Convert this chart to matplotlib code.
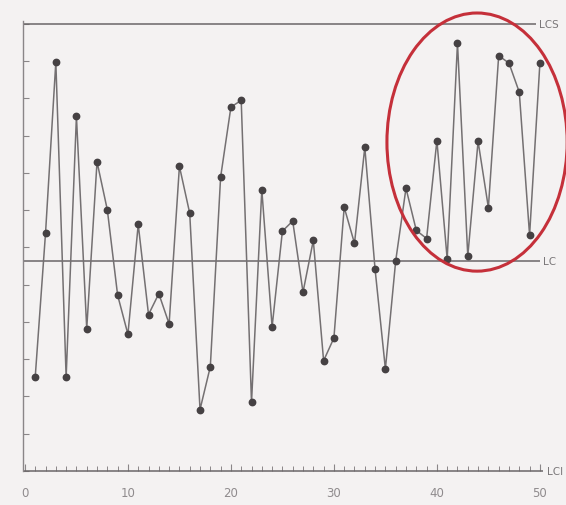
import numpy as np
import matplotlib.pyplot as plt
from matplotlib.patches import Ellipse

# valores (muestra 1..50)
samples = np.arange(1, 51)
values = [2.53, 6.39, 10.98, 2.52, 9.52, 3.82, 8.30, 7.01, 4.72, 3.67,
          6.62, 4.20, 4.76, 3.95, 8.18, 6.92, 1.65, 2.80, 7.89, 9.77,
          9.95, 1.84, 7.55, 3.87, 6.44, 6.71, 4.80, 6.19, 2.96, 3.57,
          7.08, 6.11, 8.69, 5.41, 2.74, 5.64, 7.59, 6.46, 6.24, 8.87,
          5.69, 11.49, 5.77, 8.85, 7.07, 11.15, 10.95, 10.17, 6.33, 10.94]
limits = {"LCS": 12.0, "LC": 5.65, "LCI": 0.0}
x_ticks = [0, 10, 20, 30, 40, 50]

bg = "#f4f2f2"
fig = plt.figure(figsize=(5.66, 5.06), dpi=100, facecolor=bg)
ax = fig.add_axes([0.0406, 0.0672, 0.9187, 0.8893], facecolor=bg)
ax.set_xlim(-0.19, 50.3)
ax.set_ylim(0, 12.08)

# líneas de control
ends = {"LCS": 49.6, "LC": 50.0, "LCI": 50.3}
for name, val in limits.items():
    ax.hlines(val, -0.19, ends[name], color="#6a6668", lw=1.1, clip_on=False, zorder=2)
    ax.text(ends[name] + 0.35, val, name, color="#7a7779", fontsize=7.5,
            va="center", ha="left", clip_on=False)

ax.plot(samples, values, color="#747072", lw=1.1, marker="o", markersize=4.6,
        markerfacecolor="#454143", markeredgecolor="#454143", zorder=3, clip_on=False)

# elipse roja que marca la zona fuera de control
ell = Ellipse((43.9, 8.83), 17.5, 6.93, fill=False, edgecolor="#c5303a", lw=2.2,
              clip_on=False, zorder=4)
ax.add_patch(ell)

for s in ["top", "right", "bottom"]:
    ax.spines[s].set_visible(False)
ax.spines["left"].set_color("#8a8688")
ax.spines["left"].set_linewidth(1.0)

ax.set_yticks(np.arange(0, 13))
ax.set_yticklabels([])
ax.tick_params(axis="y", direction="in", length=4, color="#8a8688", width=0.8)

ax.set_xticks(x_ticks)
ax.set_xticks(np.arange(0, 51), minor=True)
ax.tick_params(axis="x", which="major", direction="in", length=5, color="#8a8688",
               width=0.8, labelsize=8.5, labelcolor="#8f8b8d", pad=11)
ax.tick_params(axis="x", which="minor", direction="in", length=3.5, color="#8a8688",
               width=0.7)

fig.savefig("out.png", dpi=100, facecolor=bg)
